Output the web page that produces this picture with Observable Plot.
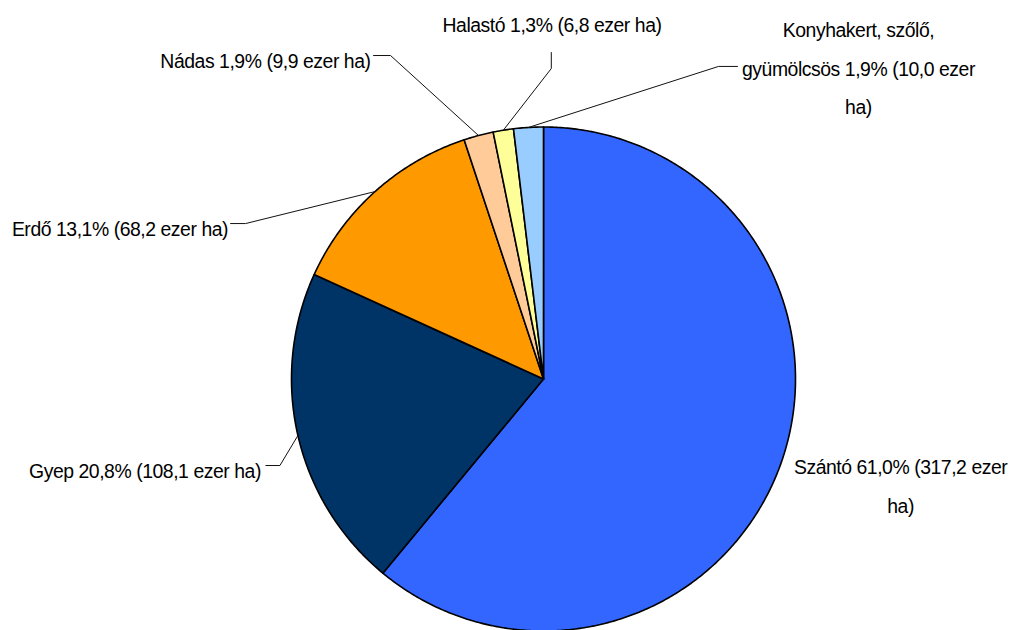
<!DOCTYPE html>
<html><head><meta charset="utf-8">
<script src="https://cdn.jsdelivr.net/npm/d3@7"></script>
<script src="https://cdn.jsdelivr.net/npm/@observablehq/plot@0.6"></script>
<style>html,body{margin:0;padding:0;background:#fff} #chart svg{display:block} #chart svg text{letter-spacing:-0.45px}</style>
</head><body><div id="chart"></div>
<script>
// ---- data ----
const categories = ["Szántó", "Gyep", "Erdő", "Nádas", "Halastó", "Konyhakert, szőlő, gyümölcsös"];
const percents = [61.0, 20.8, 13.1, 1.9, 1.3, 1.9];
const areas = [317.2, 108.1, 68.2, 9.9, 6.8, 10.0];
const colors = ["#3366FF", "#003366", "#FF9900", "#FFCC99", "#FFFF99", "#99CCFF"];

// ---- layout (pixels) ----
const W = 1012, H = 630, CX = 543, CY = 378.5, R = 252;
// leader elbow/end and label position, offsets from the slice's edge point at its mid-angle
const labelLayout = [
  {leader: null,                    text: [120, 17],     anchor: "middle", breakBefore: ["ha)"]},
  {leader: [[-18, 30], [-32, 30]],  text: [-37, 30],     anchor: "end",    breakBefore: []},
  {leader: [[-129.5, 32], [-144.5, 32]], text: [-147, 32], anchor: "end", breakBefore: []},
  {leader: [[-88, -80], [-105, -80]], text: [-108, -80], anchor: "end",    breakBefore: []},
  {leader: [[48, -61.7], [48, -77.7]], text: [48.7, -110], anchor: "middle", breakBefore: []},
  {leader: [[190, -61], [209, -61]], text: [330, -64], anchor: "middle", breakBefore: ["gyümölcsös", "ha)"]}
];

const fmt = v => v.toFixed(1).replace(".", ",");
const arcs = d3.pie().sort(null)(percents);

// slice polygons
const slicePts = [];
arcs.forEach((a, i) => {
  const n = Math.max(2, Math.ceil((a.endAngle - a.startAngle) / (Math.PI / 360)));
  slicePts.push({cat: categories[i], x: 0, y: 0});
  for (let k = 0; k <= n; k++) {
    const t = a.startAngle + (a.endAngle - a.startAngle) * k / n;
    slicePts.push({cat: categories[i], x: R * Math.sin(t), y: -R * Math.cos(t)});
  }
});

// labels & leaders
const leaderPts = [];
const labels = arcs.map((a, i) => {
  const m = (a.startAngle + a.endAngle) / 2;
  const ex = R * Math.sin(m), ey = -R * Math.cos(m);
  const L = labelLayout[i];
  if (L.leader) {
    leaderPts.push({cat: categories[i], x: ex, y: ey});
    L.leader.forEach(p => leaderPts.push({cat: categories[i], x: ex + p[0], y: ey + p[1]}));
  }
  let txt = `${categories[i]} ${fmt(percents[i])}% (${fmt(areas[i])} ezer ha)`;
  L.breakBefore.forEach(w => { txt = txt.replace(" " + w, "\n" + w); });
  return {cat: categories[i], x: ex + L.text[0], y: ey + L.text[1], text: txt, anchor: L.anchor};
});

const textOpts = {x: "x", y: "y", text: "text", fill: "black", fontSize: 19.4,
  fontFamily: "'Liberation Sans', Arial, sans-serif", lineAnchor: "middle", lineHeight: 1.97};

const chart = Plot.plot({
  width: W, height: H,
  margin: 0,
  x: {domain: [-R, R], range: [CX - R, CX + R], axis: null},
  y: {domain: [-R, R], range: [CY - R, CY + R], axis: null},
  color: {domain: categories, range: colors},
  style: {background: "#fff", overflow: "hidden"},
  marks: [
    Plot.line(slicePts, {x: "x", y: "y", z: "cat", fill: "cat", stroke: "black", strokeWidth: 1.6,
      strokeLinejoin: "round", curve: "linear-closed"}),
    Plot.line(leaderPts, {x: "x", y: "y", z: "cat", stroke: "#111", strokeWidth: 1}),
    Plot.text(labels.filter(d => d.anchor === "end"), {...textOpts, textAnchor: "end"}),
    Plot.text(labels.filter(d => d.anchor === "middle"), {...textOpts, textAnchor: "middle"})
  ]
});
document.getElementById("chart").appendChild(chart);
</script>
</body></html>
